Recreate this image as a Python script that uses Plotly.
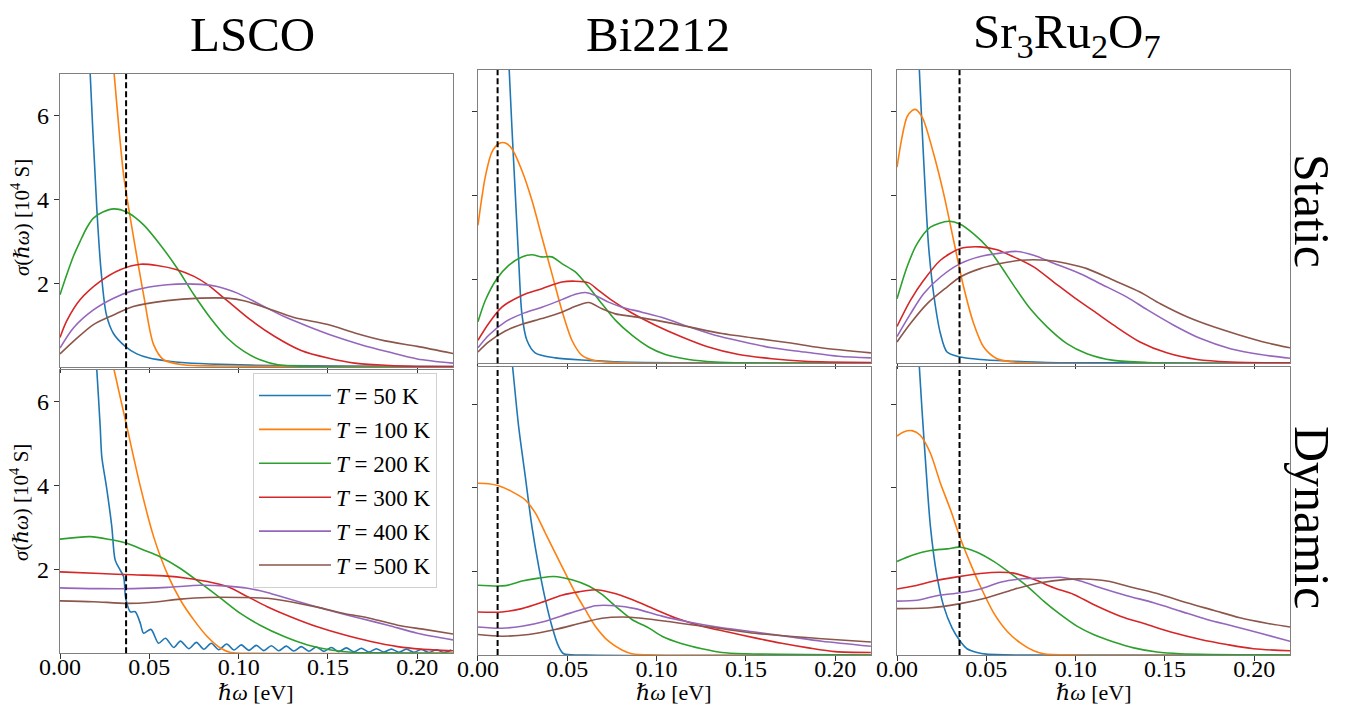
import plotly.graph_objects as go

# ---------------- data ----------------
TEMPS = [50, 100, 200, 300, 400, 500]
COLORS = ["#1f77b4", "#ff7f0e", "#2ca02c", "#d62728", "#9467bd", "#8c564b"]
MATERIALS = ["LSCO", "Bi2212", "Sr<sub>3</sub>Ru<sub>2</sub>O<sub>7</sub>"]
ROWS = ["Static", "Dynamic"]
DASH_X = [0.037, 0.011, 0.035]
X_TICKS = [0.0, 0.05, 0.10, 0.15, 0.20]
Y_TICKS = [2, 4, 6]

LSCO_STATIC = {
    50: ([0.012, 0.0169, 0.0206, 0.023, 0.026, 0.030, 0.0365, 0.043, 0.05, 0.06, 0.07, 0.09, 0.12, 0.16, 0.22],
         [12, 7.0, 3.79, 2.3, 1.25, 0.8, 0.5, 0.32, 0.22, 0.15, 0.11, 0.07, 0.04, 0.03, 0.02]),
    100: ([0.026, 0.0303, 0.0356, 0.0403, 0.0468, 0.0524, 0.058, 0.069, 0.09, 0.13, 0.22],
          [9.0, 7.0, 4.59, 3.32, 1.73, 0.54, 0.18, 0.06, 0.03, 0.02, 0.01]),
    200: ([0, 0.0037, 0.0075, 0.0112, 0.015, 0.0187, 0.0243, 0.030, 0.0375, 0.0468, 0.0562, 0.0655, 0.075, 0.0843, 0.0936, 0.103, 0.112, 0.122, 0.14, 0.22],
          [1.73, 2.2, 2.65, 3.0, 3.33, 3.56, 3.71, 3.78, 3.70, 3.40, 2.92, 2.37, 1.73, 1.17, 0.70, 0.38, 0.18, 0.06, 0.02, 0.01]),
    300: ([0, 0.0037, 0.0112, 0.0225, 0.0337, 0.045, 0.0543, 0.0655, 0.075, 0.0824, 0.0936, 0.1067, 0.12, 0.135, 0.15, 0.165, 0.182, 0.20, 0.22],
          [0.71, 1.10, 1.61, 2.05, 2.33, 2.46, 2.43, 2.33, 2.17, 1.98, 1.59, 1.13, 0.74, 0.40, 0.22, 0.10, 0.05, 0.02, 0.02]),
    400: ([0, 0.0075, 0.0187, 0.03, 0.041, 0.06, 0.0787, 0.088, 0.0993, 0.1124, 0.1255, 0.1386, 0.1536, 0.1685, 0.1835, 0.2, 0.22],
          [0.46, 0.94, 1.37, 1.65, 1.83, 1.97, 1.98, 1.93, 1.77, 1.49, 1.21, 0.98, 0.74, 0.54, 0.37, 0.20, 0.10]),
    500: ([0, 0.0075, 0.0187, 0.03, 0.041, 0.06, 0.0787, 0.0936, 0.103, 0.116, 0.131, 0.15, 0.165, 0.182, 0.2, 0.22],
          [0.32, 0.62, 1.02, 1.25, 1.45, 1.59, 1.65, 1.65, 1.59, 1.41, 1.19, 1.02, 0.82, 0.63, 0.50, 0.33]),
}

LSCO_DYNAMIC = {
    50: ([0.017, 0.0206, 0.0225, 0.0234, 0.026, 0.029, 0.0309, 0.0337, 0.0356, 0.0365, 0.037, 0.0393, 0.0421,
          0.045, 0.0468, 0.0509, 0.0552, 0.059, 0.0637, 0.0674, 0.0721, 0.0764, 0.0805, 0.0847, 0.0889, 0.0933,
          0.0974, 0.1015, 0.1057, 0.1099, 0.1141, 0.1183, 0.1225, 0.1267, 0.1309, 0.1351, 0.1393, 0.1435, 0.1477,
          0.1519, 0.1561, 0.1603, 0.1645, 0.1687, 0.1729, 0.1771, 0.1813, 0.1855, 0.1897, 0.1939, 0.1981, 0.2023,
          0.2065, 0.2107, 0.2149, 0.2191],
         [9.0, 6.75, 5.4, 4.68, 3.97, 3.02, 2.22, 1.98, 1.83, 1.40, 1.27, 0.99, 0.99,
          0.71, 0.48, 0.57, 0.24, 0.36, 0.14, 0.29, 0.11, 0.26, 0.095, 0.24, 0.086, 0.22,
          0.079, 0.20, 0.07, 0.19, 0.065, 0.18, 0.06, 0.17, 0.055, 0.16, 0.05, 0.15, 0.045,
          0.14, 0.04, 0.13, 0.035, 0.12, 0.03, 0.11, 0.03, 0.10, 0.025, 0.10, 0.025, 0.09,
          0.02, 0.085, 0.02, 0.08]),
    100: ([0.025, 0.0303, 0.037, 0.045, 0.0524, 0.06, 0.0674, 0.075, 0.0824, 0.09, 0.0955, 0.11, 0.22],
          [7.8, 6.75, 5.48, 3.97, 2.78, 1.90, 1.27, 0.79, 0.40, 0.12, 0.02, 0.0, 0.0]),
    200: ([0, 0.0169, 0.028, 0.0375, 0.0468, 0.056, 0.0674, 0.0787, 0.09, 0.101, 0.112, 0.1255, 0.1386, 0.1517, 0.165, 0.18, 0.22],
          [2.72, 2.78, 2.71, 2.62, 2.46, 2.30, 2.02, 1.67, 1.31, 0.95, 0.67, 0.40, 0.20, 0.08, 0.02, 0.01, 0.0]),
    300: ([0, 0.0225, 0.041, 0.06, 0.071, 0.0824, 0.0936, 0.105, 0.116, 0.129, 0.144, 0.159, 0.174, 0.189, 0.202, 0.22],
          [1.94, 1.90, 1.87, 1.84, 1.79, 1.71, 1.59, 1.35, 1.11, 0.87, 0.63, 0.44, 0.28, 0.16, 0.10, 0.06]),
    400: ([0, 0.0225, 0.041, 0.06, 0.0787, 0.0936, 0.105, 0.116, 0.127, 0.14, 0.1536, 0.1685, 0.1835, 0.2, 0.22],
          [1.56, 1.54, 1.54, 1.57, 1.62, 1.60, 1.55, 1.45, 1.31, 1.15, 0.99, 0.83, 0.67, 0.48, 0.32]),
    500: ([0, 0.0187, 0.0375, 0.05, 0.0674, 0.0824, 0.101, 0.116, 0.129, 0.144, 0.159, 0.174, 0.189, 0.204, 0.22],
          [1.25, 1.23, 1.19, 1.21, 1.29, 1.33, 1.33, 1.31, 1.23, 1.10, 0.95, 0.83, 0.67, 0.57, 0.46]),
}

BI_STATIC = {
    50: ([0.015, 0.0175, 0.019, 0.0209, 0.0228, 0.0246, 0.0274, 0.032, 0.0433, 0.062, 0.08, 0.12, 0.22],
         [9.3, 7.0, 5.64, 4.05, 2.46, 1.18, 0.55, 0.25, 0.13, 0.07, 0.03, 0.01, 0.0]),
    100: ([0, 0.0041, 0.0078, 0.0116, 0.0153, 0.019, 0.0246, 0.0302, 0.0358, 0.0414, 0.047, 0.0526, 0.0582, 0.0657, 0.077, 0.1, 0.22],
          [3.29, 4.45, 5.04, 5.24, 5.26, 5.12, 4.60, 3.89, 3.01, 2.14, 1.26, 0.55, 0.19, 0.06, 0.02, 0.0, 0.0]),
    200: ([0, 0.0041, 0.0106, 0.0172, 0.0246, 0.0302, 0.0358, 0.0414, 0.047, 0.0545, 0.062, 0.0694, 0.0769, 0.0862, 0.0955, 0.1049, 0.118, 0.133, 0.15, 0.22],
          [0.99, 1.50, 2.02, 2.34, 2.54, 2.59, 2.54, 2.54, 2.38, 2.18, 1.82, 1.42, 1.03, 0.67, 0.39, 0.21, 0.09, 0.03, 0.01, 0.0]),
    300: ([0, 0.006, 0.0134, 0.0246, 0.0358, 0.047, 0.0545, 0.062, 0.0675, 0.075, 0.0862, 0.0993, 0.1142, 0.129, 0.146, 0.1646, 0.183, 0.22],
          [0.55, 0.95, 1.34, 1.62, 1.78, 1.94, 1.96, 1.92, 1.74, 1.50, 1.20, 0.91, 0.63, 0.39, 0.21, 0.11, 0.05, 0.02]),
    400: ([0, 0.006, 0.0153, 0.0246, 0.0358, 0.047, 0.0545, 0.06, 0.0657, 0.0731, 0.0806, 0.0918, 0.1049, 0.118, 0.1328, 0.1478, 0.1646, 0.183, 0.2019, 0.22],
          [0.37, 0.67, 0.99, 1.18, 1.34, 1.52, 1.65, 1.69, 1.62, 1.46, 1.34, 1.22, 1.07, 0.87, 0.67, 0.52, 0.37, 0.27, 0.17, 0.13]),
    500: ([0, 0.006, 0.0153, 0.0246, 0.0358, 0.047, 0.0545, 0.062, 0.0694, 0.0769, 0.0862, 0.0993, 0.118, 0.1366, 0.155, 0.174, 0.192, 0.22],
          [0.27, 0.51, 0.77, 0.93, 1.07, 1.22, 1.36, 1.45, 1.30, 1.18, 1.12, 1.03, 0.87, 0.71, 0.60, 0.49, 0.37, 0.25]),
}

BI_DYNAMIC = {
    50: ([0.015, 0.0194, 0.0228, 0.0265, 0.0302, 0.034, 0.0377, 0.0414, 0.0451, 0.048, 0.06, 0.22],
         [8.8, 6.9, 5.46, 4.27, 3.08, 2.12, 1.33, 0.69, 0.21, 0.03, 0.0, 0.0]),
    100: ([0, 0.006, 0.0116, 0.019, 0.0265, 0.0321, 0.0377, 0.0433, 0.0489, 0.0545, 0.06, 0.0657, 0.0731, 0.0806, 0.0862, 0.1, 0.22],
          [4.11, 4.10, 4.05, 3.91, 3.71, 3.40, 2.92, 2.44, 1.96, 1.49, 1.09, 0.69, 0.33, 0.12, 0.03, 0.0, 0.0]),
    200: ([0, 0.0153, 0.0246, 0.034, 0.0424, 0.0526, 0.062, 0.0694, 0.0769, 0.0862, 0.0955, 0.103, 0.1142, 0.1254, 0.1366, 0.15, 0.22],
          [1.67, 1.66, 1.77, 1.84, 1.88, 1.80, 1.65, 1.45, 1.17, 0.85, 0.65, 0.45, 0.27, 0.15, 0.06, 0.03, 0.0]),
    300: ([0, 0.0134, 0.0246, 0.0358, 0.047, 0.0563, 0.0657, 0.075, 0.0862, 0.0993, 0.1104, 0.1254, 0.14, 0.155, 0.17, 0.185, 0.2, 0.22],
          [1.03, 1.03, 1.11, 1.26, 1.43, 1.51, 1.56, 1.49, 1.33, 1.09, 0.89, 0.69, 0.55, 0.41, 0.28, 0.17, 0.08, 0.06]),
    400: ([0, 0.0134, 0.0246, 0.0377, 0.0507, 0.0582, 0.0657, 0.0769, 0.088, 0.103, 0.118, 0.1366, 0.155, 0.174, 0.1925, 0.22],
          [0.67, 0.64, 0.69, 0.81, 0.99, 1.09, 1.18, 1.18, 1.11, 0.93, 0.79, 0.65, 0.55, 0.44, 0.33, 0.21]),
    500: ([0, 0.0134, 0.0284, 0.0433, 0.0582, 0.0694, 0.0806, 0.0918, 0.1067, 0.1216, 0.1366, 0.155, 0.174, 0.1925, 0.22],
          [0.49, 0.45, 0.49, 0.61, 0.77, 0.88, 0.91, 0.88, 0.80, 0.71, 0.63, 0.52, 0.45, 0.39, 0.31]),
}

SR_STATIC = {
    50: ([0.010, 0.0125, 0.014, 0.0159, 0.0177, 0.0205, 0.0243, 0.028, 0.0354, 0.0466, 0.065, 0.084, 0.12, 0.22],
         [9.3, 7.0, 5.64, 4.05, 2.78, 1.66, 0.71, 0.27, 0.15, 0.09, 0.05, 0.02, 0.01, 0.0]),
    100: ([0, 0.0028, 0.0056, 0.0084, 0.0103, 0.0125, 0.0149, 0.0205, 0.0261, 0.0317, 0.0373, 0.0429, 0.0485, 0.056, 0.0653, 0.08, 0.22],
          [4.68, 5.40, 5.88, 6.03, 6.06, 5.98, 5.80, 5.00, 4.05, 2.93, 1.82, 0.95, 0.39, 0.11, 0.03, 0.0, 0.0]),
    200: ([0, 0.0056, 0.0112, 0.0187, 0.0289, 0.0354, 0.0429, 0.0504, 0.0578, 0.0653, 0.0746, 0.084, 0.0951, 0.1063, 0.1213, 0.14, 0.22],
          [1.54, 2.30, 2.85, 3.25, 3.39, 3.32, 3.09, 2.78, 2.34, 1.86, 1.30, 0.87, 0.47, 0.23, 0.07, 0.02, 0.0]),
    300: ([0, 0.0075, 0.0149, 0.0243, 0.0354, 0.0466, 0.056, 0.0653, 0.0765, 0.0877, 0.0989, 0.11, 0.1213, 0.136, 0.151, 0.168, 0.1866, 0.22],
          [0.88, 1.50, 1.98, 2.46, 2.74, 2.78, 2.71, 2.54, 2.30, 1.94, 1.58, 1.25, 0.91, 0.51, 0.25, 0.09, 0.03, 0.01]),
    400: ([0, 0.0075, 0.0149, 0.0243, 0.0354, 0.0466, 0.0578, 0.0672, 0.0765, 0.0877, 0.1026, 0.1138, 0.1287, 0.14, 0.1549, 0.17, 0.1866, 0.2034, 0.22],
          [0.64, 1.18, 1.66, 2.06, 2.38, 2.55, 2.63, 2.67, 2.58, 2.39, 2.14, 1.90, 1.58, 1.28, 0.91, 0.59, 0.35, 0.21, 0.12]),
    500: ([0, 0.0075, 0.0168, 0.028, 0.0354, 0.0466, 0.0578, 0.069, 0.084, 0.0951, 0.1063, 0.1213, 0.136, 0.1474, 0.1623, 0.1772, 0.192, 0.207, 0.22],
          [0.51, 0.95, 1.42, 1.82, 2.06, 2.26, 2.38, 2.46, 2.46, 2.38, 2.26, 1.98, 1.70, 1.42, 1.11, 0.87, 0.67, 0.49, 0.37]),
}

SR_DYNAMIC = {
    50: ([0.010, 0.0125, 0.014, 0.0159, 0.0187, 0.0224, 0.0261, 0.0308, 0.0354, 0.0392, 0.0448, 0.05, 0.07, 0.22],
         [8.6, 6.9, 5.86, 4.67, 3.08, 1.88, 1.17, 0.65, 0.33, 0.15, 0.06, 0.02, 0.0, 0.0]),
    100: ([0, 0.0037, 0.0084, 0.013, 0.0187, 0.0243, 0.0299, 0.0354, 0.041, 0.0466, 0.0541, 0.0616, 0.069, 0.0765, 0.082, 0.1, 0.22],
          [5.24, 5.34, 5.37, 5.26, 4.83, 4.11, 3.48, 2.80, 2.20, 1.65, 1.01, 0.57, 0.29, 0.10, 0.03, 0.0, 0.0]),
    200: ([0, 0.0093, 0.0187, 0.028, 0.0354, 0.0448, 0.0541, 0.0634, 0.0728, 0.0821, 0.0914, 0.1007, 0.11, 0.1213, 0.1325, 0.1455, 0.1586, 0.22],
          [2.24, 2.40, 2.50, 2.54, 2.58, 2.46, 2.24, 1.96, 1.65, 1.29, 0.97, 0.69, 0.49, 0.31, 0.17, 0.07, 0.03, 0.0]),
    300: ([0, 0.0093, 0.0205, 0.0336, 0.0466, 0.0578, 0.0653, 0.0765, 0.0877, 0.0989, 0.11, 0.125, 0.14, 0.1549, 0.17, 0.1847, 0.1996, 0.22],
          [1.58, 1.65, 1.77, 1.87, 1.95, 1.98, 1.96, 1.81, 1.61, 1.45, 1.21, 0.93, 0.73, 0.53, 0.37, 0.25, 0.15, 0.10]),
    400: ([0, 0.0112, 0.0224, 0.0354, 0.0466, 0.0578, 0.069, 0.0802, 0.0914, 0.1026, 0.1138, 0.1287, 0.1437, 0.1586, 0.1735, 0.1884, 0.2034, 0.22],
          [1.29, 1.31, 1.42, 1.49, 1.58, 1.74, 1.82, 1.84, 1.86, 1.77, 1.61, 1.42, 1.25, 1.05, 0.85, 0.69, 0.52, 0.33]),
    500: ([0, 0.0187, 0.0354, 0.0504, 0.0653, 0.0802, 0.0951, 0.1045, 0.1175, 0.1325, 0.1474, 0.1623, 0.1772, 0.192, 0.207, 0.22],
          [1.11, 1.13, 1.23, 1.37, 1.57, 1.73, 1.81, 1.82, 1.77, 1.61, 1.45, 1.25, 1.07, 0.89, 0.76, 0.67]),
}

PANELS = [[LSCO_STATIC, BI_STATIC, SR_STATIC],
          [LSCO_DYNAMIC, BI_DYNAMIC, SR_DYNAMIC]]

# ---------------- layout geometry ----------------
FONT = "Liberation Serif, DejaVu Serif, serif"
X_DOMAINS = [[0.0, 0.3195], [0.3398, 0.6593], [0.6805, 1.0]]
Y_DOMAINS = [  # [row][col]
    [[0.4918, 0.9932], [0.4986, 1.0], [0.4986, 1.0]],
    [[0.0029, 0.4872], [0.0, 0.4928], [0.0, 0.4928]],
]
Y_TOPS = [[7.0, 7.0, 7.0], [6.75, 6.9, 6.9]]

fig = go.Figure()
layout = {}
shapes = []
for r in range(2):
    for c in range(3):
        p = r * 3 + c + 1
        sfx = "" if p == 1 else str(p)
        panel = PANELS[r][c]
        for T, col in zip(TEMPS, COLORS):
            xs, ys = panel[T]
            fig.add_trace(go.Scatter(
                x=xs, y=ys, mode="lines",
                line=dict(color=col, width=1.6, shape="spline", smoothing=0.8),
                name=f"<i>T</i> = {T} K", legendgroup=f"T{T}",
                showlegend=(p == 4),
                xaxis=f"x{sfx}", yaxis=f"y{sfx}",
            ))
        xa = dict(domain=X_DOMAINS[c], range=[0, 0.22], anchor=f"y{sfx}",
                  tickvals=X_TICKS, tickformat=".2f", ticks="outside", ticklen=5,
                  tickwidth=1.2, tickcolor="#333", showline=True, mirror=True,
                  linecolor="#808080", linewidth=1.2, showgrid=False, zeroline=False,
                  showticklabels=(r == 1), automargin=False, ticklabelstandoff=-13,
                  tickfont=dict(family=FONT, size=24, color="black"))
        ya = dict(domain=Y_DOMAINS[r][c], range=[0, Y_TOPS[r][c]], anchor=f"x{sfx}",
                  tickvals=Y_TICKS, ticks="outside", ticklen=5, tickwidth=1.2, tickcolor="#333",
                  showline=True, mirror=True, linecolor="#808080", linewidth=1.2,
                  showgrid=False, zeroline=False, showticklabels=(c == 0), automargin=False,
                  tickfont=dict(family=FONT, size=24, color="black"))
        layout[f"xaxis{sfx}"] = xa
        layout[f"yaxis{sfx}"] = ya
        shapes.append(dict(type="line", xref=f"x{sfx}", yref=f"y{sfx} domain",
                           x0=DASH_X[c], x1=DASH_X[c], y0=0, y1=1,
                           line=dict(color="black", width=2, dash="6px,3px")))

annotations = []
TITLE_X = [0.1569, 0.4862, 0.8187]
for c, name in enumerate(MATERIALS):
    annotations.append(dict(text=name, x=TITLE_X[c], y=1.0615, xref="paper", yref="paper",
                            showarrow=False, xanchor="center", yanchor="middle",
                            font=dict(family=FONT, size=49, color="black")))
ROW_Y = [0.759, 0.236]
for r, name in enumerate(ROWS):
    annotations.append(dict(text=name, x=1.0179, y=ROW_Y[r], xref="paper", yref="paper",
                            showarrow=False, xanchor="center", yanchor="middle", textangle=90,
                            font=dict(family=FONT, size=50, color="black")))
# y-axis titles of the first column
YTITLE_Y = [0.747, 0.260]
for r in range(2):
    annotations.append(dict(text="<i>σ</i>(<i>ℏω</i>) [10<sup>4</sup> S]", x=-0.0325, y=YTITLE_Y[r],
                            xref="paper", yref="paper", showarrow=False, textangle=-90,
                            xanchor="center", yanchor="middle",
                            font=dict(family=FONT, size=21, color="black")))
# x-axis titles of the bottom row, centred under each panel
for c in range(3):
    annotations.append(dict(text="<i>ℏω</i> [eV]", x=sum(X_DOMAINS[c]) / 2, y=-0.0645,
                            xref="paper", yref="paper", showarrow=False,
                            xanchor="center", yanchor="middle",
                            font=dict(family=FONT, size=22, color="black")))

fig.update_layout(
    width=1353, height=708,
    margin=dict(l=60, r=63, t=70, b=53),
    paper_bgcolor="white", plot_bgcolor="white",
    shapes=shapes, annotations=annotations,
    legend=dict(x=0.1569, y=0.482, xanchor="left", yanchor="top",
                bgcolor="rgba(255,255,255,0.85)", bordercolor="#d0d0d0", borderwidth=1,
                font=dict(family=FONT, size=23, color="black"),
                tracegroupgap=1, itemwidth=72),
    showlegend=True,
    **layout,
)

fig.write_html("out.html", config={"displayModeBar": False},
               post_script="document.body.style.margin='0px';document.body.style.overflow='hidden';")
